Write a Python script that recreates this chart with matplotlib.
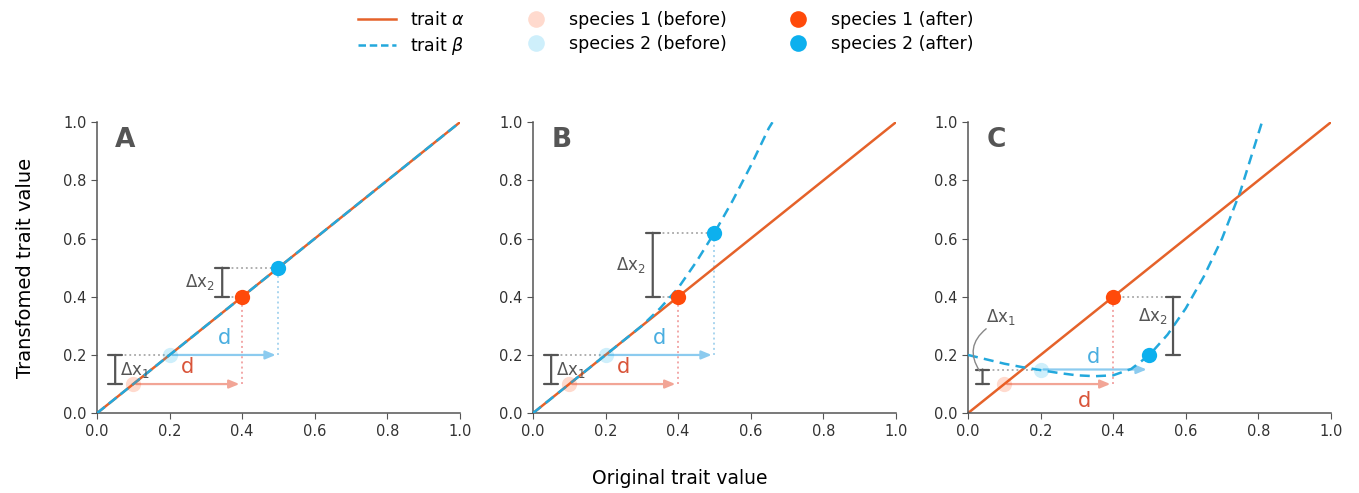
import numpy as np
import matplotlib.pyplot as plt
from matplotlib.lines import Line2D

# trait beta curves
xb = [0, 0.1, 0.2, 0.3, 0.35, 0.4, 0.45, 0.5, 0.55, 0.6, 0.65, 0.66]
yb_B = [0, 0.1, 0.2, 0.3, 0.36, 0.43, 0.52, 0.62, 0.73, 0.85, 0.98, 1.0]
xc = [0, 0.05, 0.1, 0.15, 0.2, 0.25, 0.3, 0.35, 0.4, 0.45, 0.5, 0.55, 0.6, 0.65, 0.7, 0.75, 0.8, 0.81]
yc_C = [0.2, 0.185, 0.17, 0.158, 0.148, 0.138, 0.13, 0.127, 0.13, 0.152, 0.2, 0.27, 0.36, 0.47, 0.6, 0.76, 0.96, 1.0]

panels = ['A', 'B', 'C']
sp1_before = (0.1, 0.1)
sp2_before = [(0.2, 0.2), (0.2, 0.2), (0.2, 0.15)]
sp1_after = (0.4, 0.4)
sp2_after = [(0.5, 0.5), (0.5, 0.62), (0.5, 0.2)]
ticks = [0, 0.2, 0.4, 0.6, 0.8, 1.0]

c_line = '#e5622a'
c_beta = '#23a8dc'
c_s1 = '#ff4a0a'
c_s2 = '#0db0ee'
c_gray = '#555555'
c_dline = '#a8a8a8'

fig = plt.figure(figsize=(13.59, 4.93), dpi=100)
lefts = [0.0714, 0.3922, 0.7123]
axes = [fig.add_axes([l, 0.162, 0.267, 0.590]) for l in lefts]


def bracket(ax, x, y0, y1):
    ax.annotate('', xy=(x, y0), xytext=(x, y1),
                arrowprops=dict(arrowstyle='|-|,widthA=0.5,widthB=0.5', color=c_gray,
                                lw=1.6, shrinkA=0, shrinkB=0))


for i, ax in enumerate(axes):
    ax.set_xlim(0, 1)
    ax.set_ylim(0, 1)
    ax.set_xticks(ticks)
    ax.set_yticks(ticks)
    ax.set_xticklabels(['0.0', '0.2', '0.4', '0.6', '0.8', '1.0'])
    ax.set_yticklabels(['0.0', '0.2', '0.4', '0.6', '0.8', '1.0'])
    for s in ['top', 'right']:
        ax.spines[s].set_visible(False)
    for s in ['left', 'bottom']:
        ax.spines[s].set_color('#555555')
        ax.spines[s].set_linewidth(1.1)
    ax.tick_params(colors='#555555', labelcolor='#333333', labelsize=10.5, length=4)

    # trait alpha = identity
    ax.plot([0, 1], [0, 1], color=c_line, lw=1.8, zorder=2)
    if i == 0:
        ax.plot([0, 1], [0, 1], color=c_beta, lw=1.8, ls=(0, (4, 2)), zorder=3)
    elif i == 1:
        ax.plot(xb, yb_B, color=c_beta, lw=1.8, ls=(0, (4, 2.5)), zorder=3)
    else:
        ax.plot(xc, yc_C, color=c_beta, lw=1.8, ls=(0, (4, 2.5)), zorder=3)

    s2b = sp2_before[i]
    s2a = sp2_after[i]

    # d arrows
    ax.annotate('', xy=(sp1_after[0], sp1_before[1]), xytext=sp1_before,
                arrowprops=dict(arrowstyle='-|>,head_length=0.6,head_width=0.25',
                                color='#f2a596', lw=1.6), zorder=1)
    ax.annotate('', xy=(s2a[0], s2b[1]), xytext=s2b,
                arrowprops=dict(arrowstyle='-|>,head_length=0.6,head_width=0.25',
                                color='#8ccbef', lw=1.6), zorder=1)
    if i < 2:
        ax.text(0.25, sp1_before[1] + 0.025, 'd', color='#d9553a', fontsize=15,
                ha='center', va='bottom')
        ax.text(0.35, s2b[1] + 0.025, 'd', color='#4aaee0', fontsize=15,
                ha='center', va='bottom')
    else:
        ax.text(0.32, sp1_before[1] - 0.025, 'd', color='#d9553a', fontsize=15,
                ha='center', va='top')
        ax.text(0.345, s2b[1] + 0.01, 'd', color='#4aaee0', fontsize=15,
                ha='center', va='bottom')

    # vertical dotted drops
    ax.plot([sp1_after[0]] * 2, [sp1_before[1], sp1_after[1]], ls=':', color='#f2a8a8', lw=1.4, zorder=1)
    if i < 2:
        ax.plot([s2a[0]] * 2, [s2b[1], s2a[1]], ls=':', color='#a9d5ef', lw=1.4, zorder=1)

    # delta x1 bracket
    b1 = 0.05 if i < 2 else 0.04
    bracket(ax, b1, sp1_before[1], s2b[1])
    ax.plot([b1, s2b[0]], [s2b[1], s2b[1]], ls=':', color=c_dline, lw=1.3, zorder=1)
    if i < 2:
        ax.text(0.063, (sp1_before[1] + s2b[1]) / 2, r'$\mathsf{\Delta x_1}$', color=c_gray,
                fontsize=12, ha='left', va='center')
    else:
        ax.text(0.05, 0.33, r'$\mathsf{\Delta x_1}$', color=c_gray,
                fontsize=12, ha='left', va='center')
        ax.annotate('', xy=(0.032, 0.145), xytext=(0.05, 0.29),
                    arrowprops=dict(arrowstyle='-', color='#888888', lw=1.0,
                                    connectionstyle='arc3,rad=0.45',
                                    shrinkA=0, shrinkB=0))

    # delta x2 bracket
    if i == 0:
        bx, lx = 0.345, 0.325
    elif i == 1:
        bx, lx = 0.33, 0.31
    else:
        bx, lx = 0.565, 0.55
    bracket(ax, bx, sp1_after[1], s2a[1])
    if i < 2:
        ax.plot([bx, s2a[0]], [s2a[1], s2a[1]], ls=':', color=c_dline, lw=1.3, zorder=1)
        ax.plot([bx, sp1_after[0]], [sp1_after[1], sp1_after[1]], ls=':', color=c_dline, lw=1.3, zorder=1)
        ly = (sp1_after[1] + s2a[1]) / 2
    else:
        ax.plot([sp1_after[0], bx], [sp1_after[1], sp1_after[1]], ls=':', color=c_dline, lw=1.3, zorder=1)
        ly = 0.335
    ax.text(lx, ly, r'$\mathsf{\Delta x_2}$', color=c_gray,
            fontsize=12, ha='right', va='center')

    # species points
    ax.plot(*sp1_before, 'o', color=c_s1, alpha=0.2, ms=11, mec='none', zorder=5)
    ax.plot(*s2b, 'o', color=c_s2, alpha=0.2, ms=11, mec='none', zorder=5)
    ax.plot(*sp1_after, 'o', color=c_s1, ms=11, mec='none', zorder=6)
    ax.plot(*s2a, 'o', color=c_s2, ms=11, mec='none', zorder=6)

    ax.text(0.05, 0.94, panels[i], transform=ax.transAxes, fontsize=19,
            fontweight='bold', color='#555555', ha='left', va='center')

fig.text(0.012, 0.457, 'Transfomed trait value', rotation=90, fontsize=14,
         ha='left', va='center')
fig.text(0.5, 0.03, 'Original trait value', fontsize=13.5, ha='center', va='center')

handles = [
    Line2D([], [], color=c_line, lw=1.8),
    Line2D([], [], color=c_beta, lw=1.8, ls=(0, (3, 1.5))),
    Line2D([], [], marker='o', ls='none', color=c_s1, alpha=0.2, ms=12, mec='none'),
    Line2D([], [], marker='o', ls='none', color=c_s2, alpha=0.2, ms=12, mec='none'),
    Line2D([], [], marker='o', ls='none', color=c_s1, ms=12, mec='none'),
    Line2D([], [], marker='o', ls='none', color=c_s2, ms=12, mec='none'),
]
labels = [r'trait $\alpha$', r'trait $\beta$', 'species 1 (before)', 'species 2 (before)',
          'species 1 (after)', 'species 2 (after)']
fig.legend(handles, labels, ncol=3, loc='upper center', bbox_to_anchor=(0.49, 1.01),
           frameon=False, fontsize=12.5, columnspacing=3.0, handlelength=2.2,
           labelspacing=0.35)

fig.savefig('out.png', dpi=100)
